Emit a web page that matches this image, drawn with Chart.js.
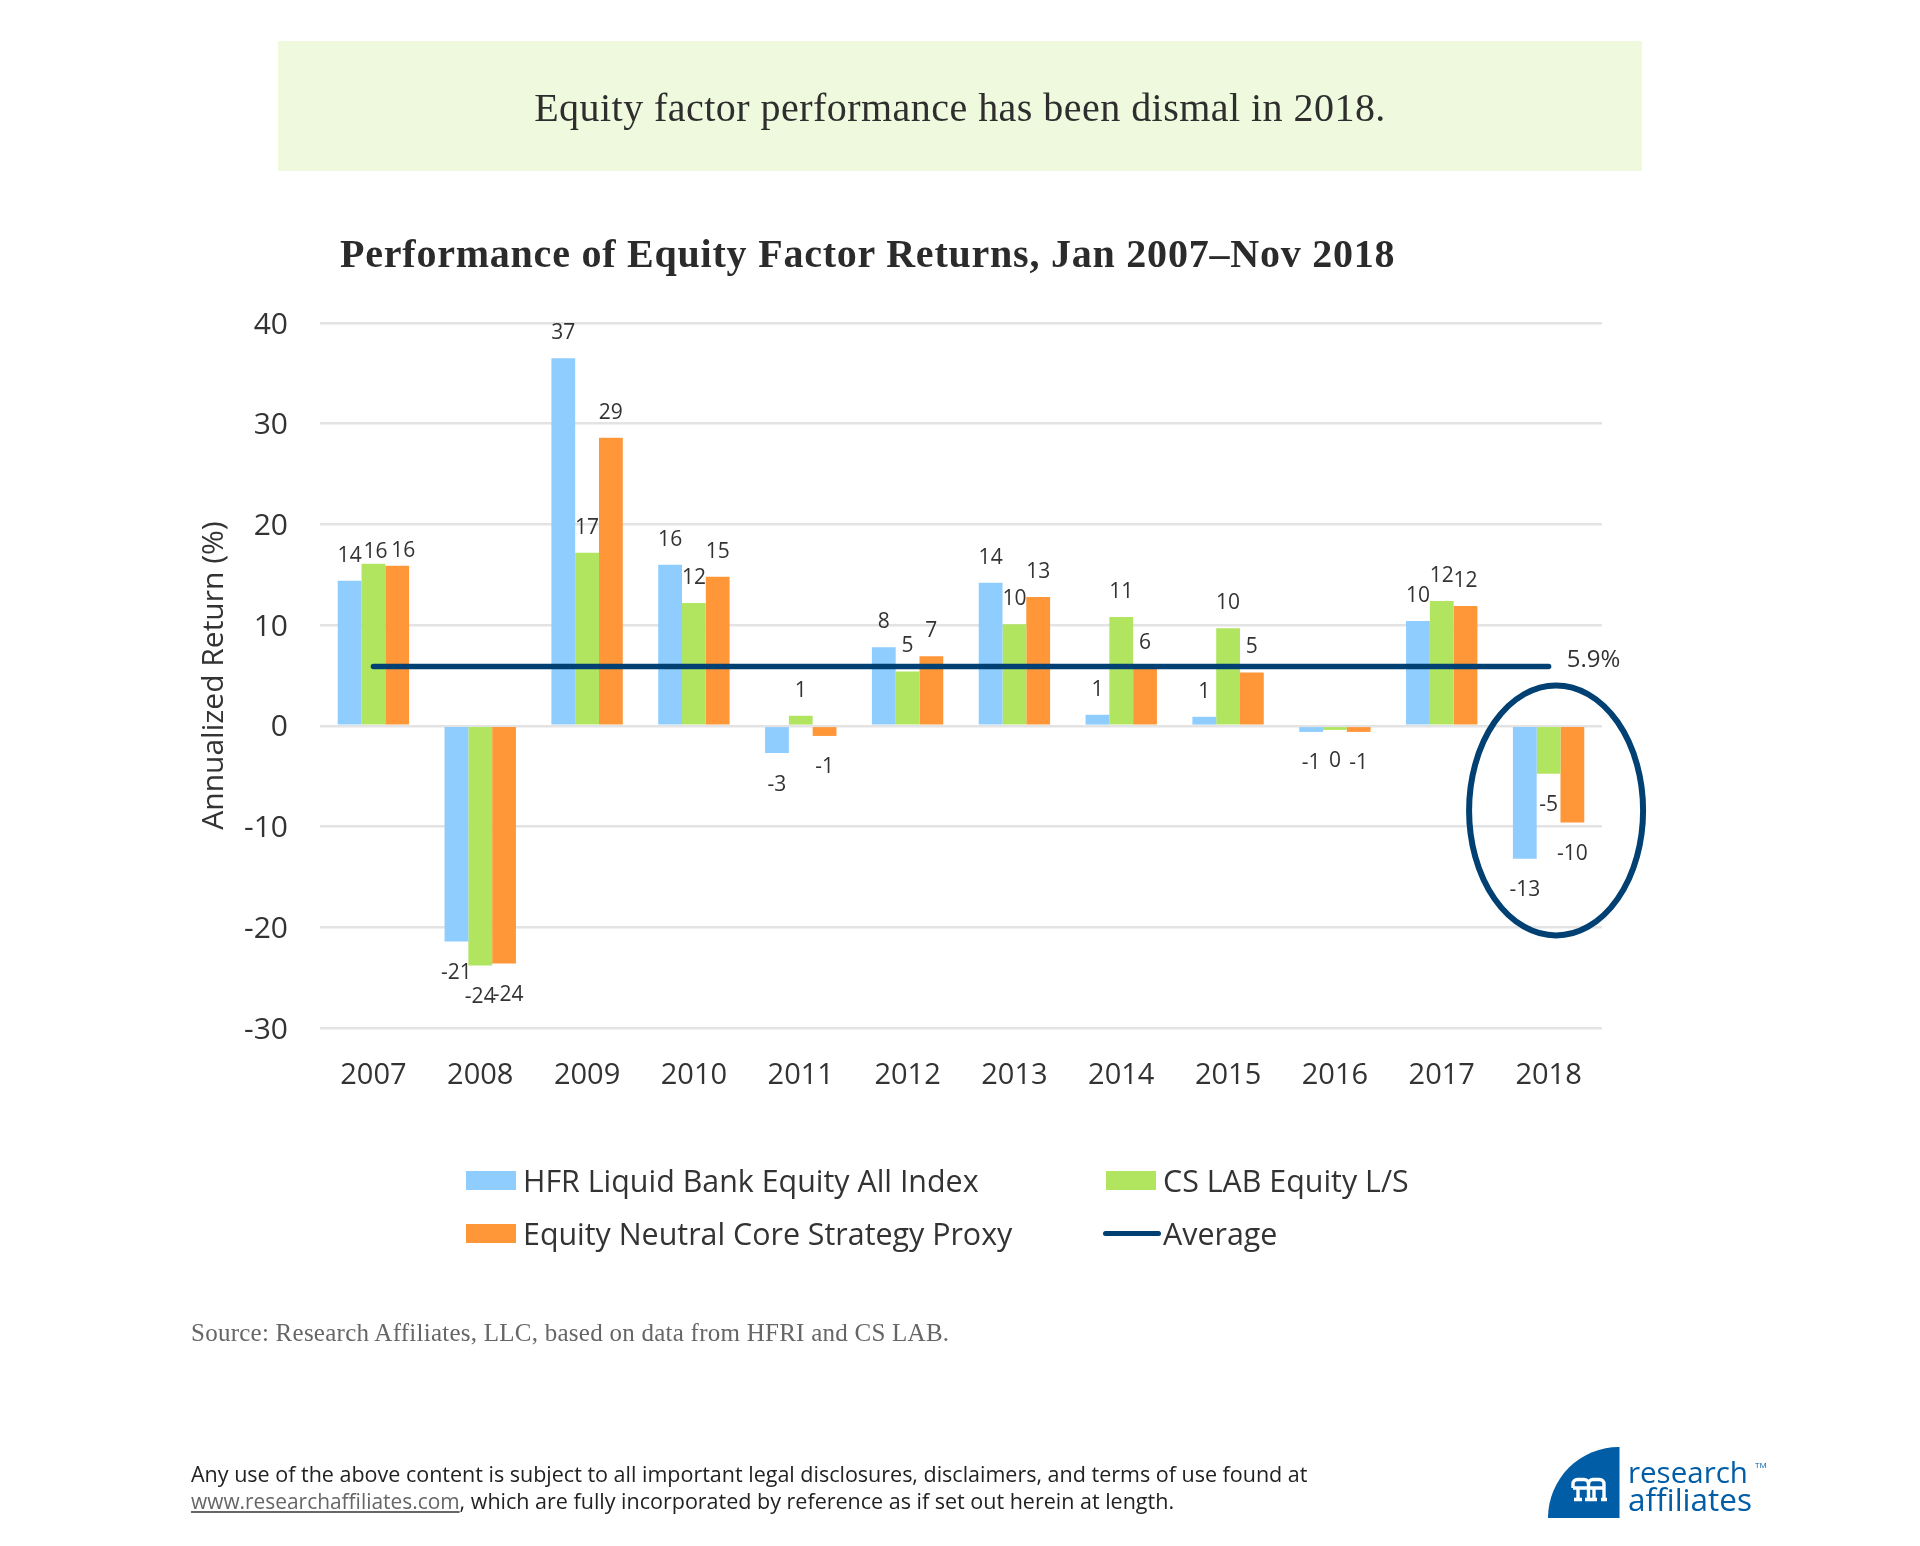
<!DOCTYPE html>
<html>
<head>
<meta charset="utf-8">
<title>Performance of Equity Factor Returns</title>
<script src="https://cdn.jsdelivr.net/npm/chart.js@4"></script>
<style>
  html, body { margin: 0; padding: 0; background: #fff; }
  #page { position: relative; width: 1920px; height: 1546px; overflow: hidden; font-family: "Open Sans", sans-serif; color: #333; }
  #page > * { position: absolute; }
  #mainChart { left: 0; top: 0; }
  #banner { left: 278px; top: 41px; width: 1364px; height: 130px; background: #eef9dd; }
  .serif { font-family: "Liberation Serif", serif; white-space: nowrap; }
  #headline { left: 278px; width: 1364px; top: 85px; text-align: center; font-size: 40px; line-height: 46px; color: #2e2e2e; letter-spacing: 0.46px; }
  #title { left: 340px; top: 231px; font-size: 40px; line-height: 46px; font-weight: bold; color: #2b2b2b; letter-spacing: 0.78px; }
  #source { left: 191px; top: 1319px; font-size: 25px; line-height: 28px; color: #666; letter-spacing: 0.25px; }
  .legal { left: 191px; font-size: 21.5px; line-height: 27px; color: #222; white-space: nowrap; }
  .legal u { color: #666; font-size: 20.9px; }
  .lg-swatch { position: absolute; }
  .lg-text { position: absolute; font-size: 30.4px; line-height: 40px; white-space: nowrap; color: #333; }
  #logoText1, #logoText2 { color: #005da6; line-height: 34px; white-space: nowrap; left: 1628px; }
  #logoText1 { font-size: 29.5px; }
  #logoText2 { font-size: 31.5px; }
</style>
</head>
<body>
<div id="page">
  <div id="banner"></div>
  <canvas id="mainChart" width="1920" height="1546"></canvas>
  <div id="headline" class="serif">Equity factor performance has been dismal in 2018.</div>
  <div id="title" class="serif">Performance of Equity Factor Returns, Jan 2007–Nov 2018</div>
  <div id="legend"></div>
  <div id="source" class="serif">Source: Research Affiliates, LLC, based on data from HFRI and CS LAB.</div>
  <div class="legal" style="top:1460px">Any use of the above content is subject to all important legal disclosures, disclaimers, and terms of use found at</div>
  <div class="legal" style="top:1487px"><u>www.researchaffiliates.com</u>, which are fully incorporated by reference as if set out herein at length.</div>
  <svg style="left:1548px;top:1447px" width="72" height="72" viewBox="0 0 72 72">
    <path d="M71.5 0 V71 H0 A71 71 0 0 1 71.5 0 Z" fill="#005da6"/>
    <g fill="none" stroke="#fff" stroke-width="3.4">
      <path d="M25 41 V37 a4.5 4.5 0 0 1 4.5 -4.5 H36 a4.5 4.5 0 0 1 4.5 4.5 V52"/>
      <path d="M40.5 37 a4.5 4.5 0 0 1 4.5 -4.5 h6.5 a4.5 4.5 0 0 1 4.5 4.5 V52"/>
      <path d="M25 41 H56 M30 41 V52 M46 41 V52"/>
      <path d="M26 52.5 H34 M37 52.5 H49 M53 52.5 H59"/>
    </g>
  </svg>
  <div id="logoText1" style="top:1455px">research</div>
  <div id="logoText2" style="top:1482px">affiliates</div>
  <div style="left:1755px;top:1459px;font-size:8px;color:#005da6">TM</div>
</div>

<script>
const years = ["2007", "2008", "2009", "2010", "2011", "2012", "2013", "2014", "2015", "2016", "2017", "2018"];
const hfrValues = [14.4, -21.4, 36.5, 16.0, -2.7, 7.8, 14.2, 1.1, 0.9, -0.6, 10.4, -13.2];
const csLabValues = [16.1, -23.8, 17.2, 12.2, 1.0, 5.4, 10.1, 10.8, 9.7, -0.4, 12.4, -4.75];
const coreValues = [15.9, -23.6, 28.6, 14.8, -1.0, 6.9, 12.8, 5.7, 5.3, -0.6, 11.9, -9.6];
const averageValues = [5.9, 5.9, 5.9, 5.9, 5.9, 5.9, 5.9, 5.9, 5.9, 5.9, 5.9, 5.9];
const yTicks = [40, 30, 20, 10, 0, -10, -20, -30];

const TEXT_COLOR = "#333";
const NAVY = "#004072";
const FONT = "'Open Sans', sans-serif";

// The few labels that were moved by hand in the original: "dataset:index" -> [dx, dy]
const labelNudges = { "1:0": [2, 13], "2:0": [6, 10], "2:1": [4, 0] };

// Value labels above / below each bar, read from the bar elements
const barLabels = {
  id: "barLabels",
  afterDatasetsDraw(chart) {
    const ctx = chart.ctx;
    ctx.save();
    ctx.font = "21px " + FONT;
    ctx.fillStyle = TEXT_COLOR;
    ctx.textAlign = "center";
    ctx.textBaseline = "middle";
    chart.data.datasets.forEach((ds, d) => {
      if (ds.type === "line") return;
      chart.getDatasetMeta(d).data.forEach((bar, i) => {
        const nudge = labelNudges[d + ":" + i] || [0, 0];
        const off = ds.data[i] >= 0 ? -25 : 31.5;
        ctx.fillText(String(Math.round(ds.data[i])), bar.x + nudge[0], bar.y + off + nudge[1]);
      });
    });
    ctx.restore();
  },
};

// 5.9% tag and the circle around 2018
const callouts = {
  id: "callouts",
  afterDatasetsDraw(chart) {
    const ctx = chart.ctx;
    const x = chart.scales.x;
    const y = chart.scales.y;
    ctx.save();
    ctx.font = "24px " + FONT;
    ctx.fillStyle = TEXT_COLOR;
    ctx.textAlign = "center";
    ctx.textBaseline = "middle";
    ctx.fillText("5.9%", x.getPixelForValue(11) + 45, y.getPixelForValue(averageValues[11]) - 6);

    ctx.strokeStyle = NAVY;
    ctx.lineWidth = 6;
    ctx.beginPath();
    ctx.ellipse(x.getPixelForValue(11) + 7.5, y.getPixelForValue(-8.4), 87, 125, 0, 0, Math.PI * 2);
    ctx.stroke();
    ctx.restore();
  },
};

function barDataset(label, data, color) {
  return {
    type: "bar",
    label: label,
    data: data,
    backgroundColor: color,
    borderWidth: 0,
    categoryPercentage: 0.668,
    barPercentage: 1,
    order: 2,
  };
}

const chartInstance = new Chart(document.getElementById("mainChart"), {
  data: {
    labels: years,
    datasets: [
      barDataset("HFR Liquid Bank Equity All Index", hfrValues, "#8fcdff"),
      barDataset("CS LAB Equity L/S", csLabValues, "#b1e560"),
      barDataset("Equity Neutral Core Strategy Proxy", coreValues, "#ff9638"),
      {
        type: "line",
        label: "Average",
        data: averageValues,
        borderColor: NAVY,
        borderWidth: 5.5,
        borderCapStyle: "round",
        pointRadius: 0,
        order: 1,
      },
    ],
  },
  options: {
    responsive: false,
    animation: false,
    devicePixelRatio: 1,
    layout: { padding: { left: 196, top: 323, right: 318, bottom: 448 } },
    plugins: { legend: { display: false }, tooltip: { enabled: false } },
    scales: {
      x: {
        afterFit: (s) => { s.height = 70; },
        grid: { display: false },
        border: { display: false },
        ticks: { color: TEXT_COLOR, font: { family: FONT, size: 29 }, padding: 22, maxRotation: 0 },
      },
      y: {
        min: -30,
        max: 40,
        afterFit: (s) => { s.width = 124; },
        afterBuildTicks: (s) => { s.ticks = yTicks.map((v) => ({ value: v })); },
        grid: { color: "#e3e3e3", lineWidth: 2.5, drawTicks: false },
        border: { display: false },
        ticks: { color: TEXT_COLOR, font: { family: FONT, size: 30 }, padding: 32, labelOffset: 2 },
        title: {
          display: true,
          text: "Annualized Return (%)",
          color: TEXT_COLOR,
          font: { family: FONT, size: 30 },
          padding: 0,
        },
      },
    },
  },
  plugins: [barLabels, callouts],
});

// Legend sits in two fixed columns, which the built-in one cannot do
function renderLegend(chart) {
  const box = document.getElementById("legend");
  const columns = [466, 1106];
  const rows = [1171, 1224];
  chart.data.datasets.forEach((ds, i) => {
    const left = columns[i % 2];
    const top = rows[Math.floor(i / 2)];
    const swatch = document.createElement("div");
    swatch.className = "lg-swatch";
    if (ds.type === "line") {
      swatch.style.cssText = `left:${left - 3}px;top:${top + 7}px;width:58px;height:5px;border-radius:3px;background:${ds.borderColor}`;
    } else {
      swatch.style.cssText = `left:${left}px;top:${top}px;width:50px;height:19px;background:${ds.backgroundColor}`;
    }
    const text = document.createElement("div");
    text.className = "lg-text";
    text.style.left = left + 57 + "px";
    text.style.top = top - 10 + "px";
    text.textContent = ds.label;
    box.appendChild(swatch);
    box.appendChild(text);
  });
}
renderLegend(chartInstance);
</script>
</body>
</html>
